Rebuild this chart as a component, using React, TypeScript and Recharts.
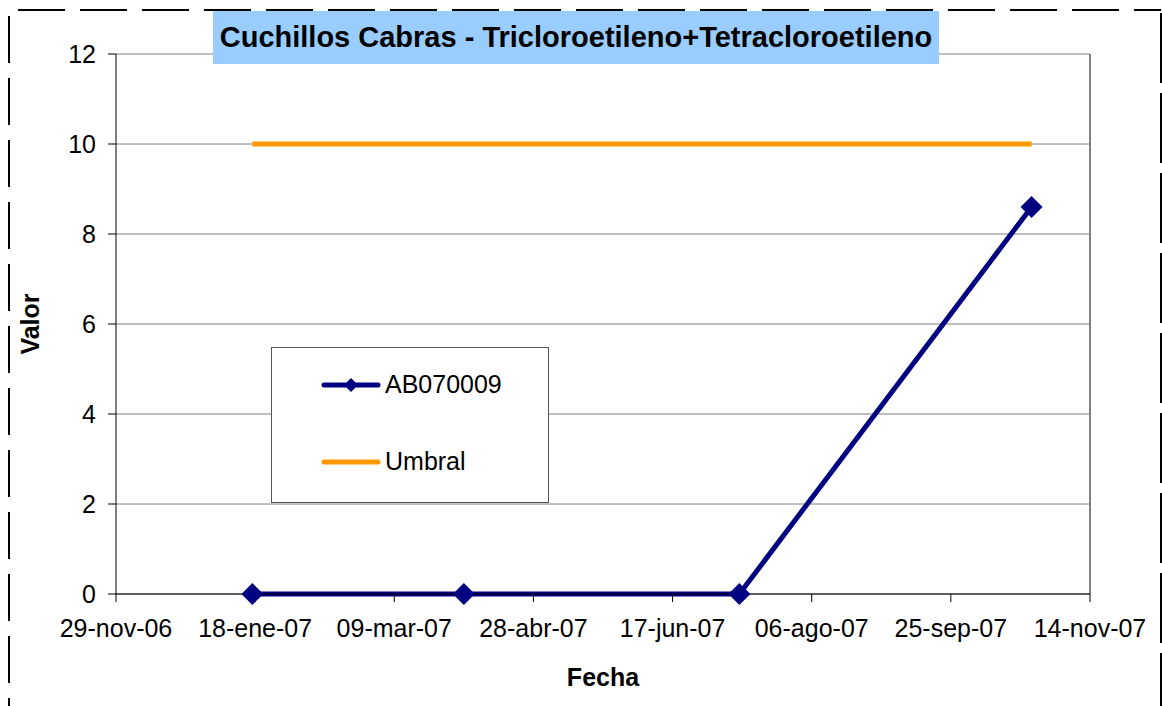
import React from "react";
import {
  CartesianGrid,
  Line,
  LineChart,
  ReferenceLine,
  XAxis,
  YAxis,
} from "recharts";

const SAMPLE_DATES = ["2007-01-17", "2007-04-03", "2007-07-11", "2007-10-24"];
const AB070009 = [0, 0, 0, 8.6];
const UMBRAL = [10, 10, 10, 10];
const X_TICK_DATES = [
  "2006-11-29",
  "2007-01-18",
  "2007-03-09",
  "2007-04-28",
  "2007-06-17",
  "2007-08-06",
  "2007-09-25",
  "2007-11-14",
];
const Y_TICKS = [0, 2, 4, 6, 8, 10, 12];
const MESES = ["ene", "feb", "mar", "abr", "may", "jun", "jul", "ago", "sep", "oct", "nov", "dic"];

const toTs = (s: string) => Date.parse(s + "T00:00:00Z");
const xTicks = X_TICK_DATES.map(toTs);

const data = SAMPLE_DATES.map((d, i) => ({
  t: toTs(d),
  ab: AB070009[i],
  umbral: UMBRAL[i],
}));

const fmtDate = (ts: number) => {
  const d = new Date(ts);
  const dd = String(d.getUTCDate()).padStart(2, "0");
  const yy = String(d.getUTCFullYear()).slice(2);
  return `${dd}-${MESES[d.getUTCMonth()]}-${yy}`;
};

const NAVY = "#000080";
const ORANGE = "#FF9900";
const FONT = "'Liberation Sans', Arial, sans-serif";

const Diamond = (props: any) => {
  const { cx, cy } = props;
  if (cx == null || cy == null) return null;
  const r = 11;
  return (
    <polygon
      key={`d-${cx}`}
      points={`${cx},${cy - r} ${cx + r},${cy} ${cx},${cy + r} ${cx - r},${cy}`}
      fill={NAVY}
    />
  );
};

const LegendBox = () => (
  <div
    style={{
      position: "absolute",
      left: 271,
      top: 347,
      width: 278,
      height: 156,
      border: "1px solid #555",
      background: "#fff",
      fontFamily: FONT,
      fontSize: 25,
      boxSizing: "border-box",
    }}
  >
    <svg width={60} height={20} style={{ position: "absolute", left: 49, top: 27 }}>
      <line x1={3} y1={10} x2={57} y2={10} stroke={NAVY} strokeWidth={5} strokeLinecap="round" />
      <polygon points="30,3 37,10 30,17 23,10" fill={NAVY} />
    </svg>
    <span style={{ position: "absolute", left: 113, top: 22 }}>AB070009</span>
    <svg width={60} height={20} style={{ position: "absolute", left: 49, top: 104 }}>
      <line x1={3} y1={10} x2={57} y2={10} stroke={ORANGE} strokeWidth={5} strokeLinecap="round" />
    </svg>
    <span style={{ position: "absolute", left: 113, top: 99 }}>Umbral</span>
  </div>
);

const Border = () => (
  <svg width={1162} height={706} style={{ position: "absolute", left: 0, top: 0 }}>
    <line x1={18} y1={10} x2={1161} y2={10} stroke="#000" strokeWidth={2} strokeDasharray="47 15" />
    <line x1={9} y1={16} x2={9} y2={706} stroke="#000" strokeWidth={2} strokeDasharray="47 15" />
    <line x1={1161} y1={10} x2={1161} y2={706} stroke="#000" strokeWidth={2} strokeDasharray="70 10" strokeDashoffset={-3} />
  </svg>
);

export default function App() {
  return (
    <div style={{ position: "absolute", left: 0, top: 0, width: 1162, height: 706, background: "#fff" }}>
      <Border />
      <LineChart
        width={1162}
        height={706}
        data={data}
        margin={{ top: 54, right: 72, bottom: 0, left: 0 }}
        style={{ position: "absolute", left: 0, top: 0, fontFamily: FONT }}
      >
        <CartesianGrid horizontal vertical={false} stroke="#808080" strokeWidth={1} />
        <XAxis
          dataKey="t"
          type="number"
          domain={[xTicks[0], xTicks[xTicks.length - 1]]}
          ticks={xTicks}
          tickFormatter={fmtDate}
          height={112}
          stroke="#000"
          tickSize={8}
          tickMargin={17}
          tick={{ fill: "#000", fontSize: 25 }}
          interval={0}
          label={{ value: "Fecha", position: "insideBottom", offset: 20, fill: "#000", fontSize: 25, fontWeight: "bold" }}
        />
        <YAxis
          type="number"
          domain={[0, 12]}
          ticks={Y_TICKS}
          width={116}
          stroke="#000"
          tickSize={8}
          tickMargin={12}
          tick={{ fill: "#000", fontSize: 25 }}
          label={{
            value: "Valor",
            angle: -90,
            position: "insideLeft",
            offset: 30,
            fill: "#000",
            fontSize: 25,
            fontWeight: "bold",
            style: { textAnchor: "middle" },
          }}
        />
        <ReferenceLine x={xTicks[xTicks.length - 1]} stroke="#808080" strokeWidth={2} />
        <Line
          dataKey="umbral"
          name="Umbral"
          stroke={ORANGE}
          strokeWidth={5}
          dot={false}
          activeDot={false}
          isAnimationActive={false}
        />
        <Line
          dataKey="ab"
          name="AB070009"
          stroke={NAVY}
          strokeWidth={5}
          dot={<Diamond />}
          activeDot={false}
          isAnimationActive={false}
        />
      </LineChart>
      <LegendBox />
      <div
        style={{
          position: "absolute",
          left: 213,
          top: 11,
          width: 726,
          height: 53,
          background: "#99CCFF",
          fontFamily: FONT,
          fontWeight: "bold",
          fontSize: 29,
          display: "flex",
          alignItems: "center",
          justifyContent: "center",
        }}
      >
        Cuchillos Cabras - Tricloroetileno+Tetracloroetileno
      </div>
    </div>
  );
}
